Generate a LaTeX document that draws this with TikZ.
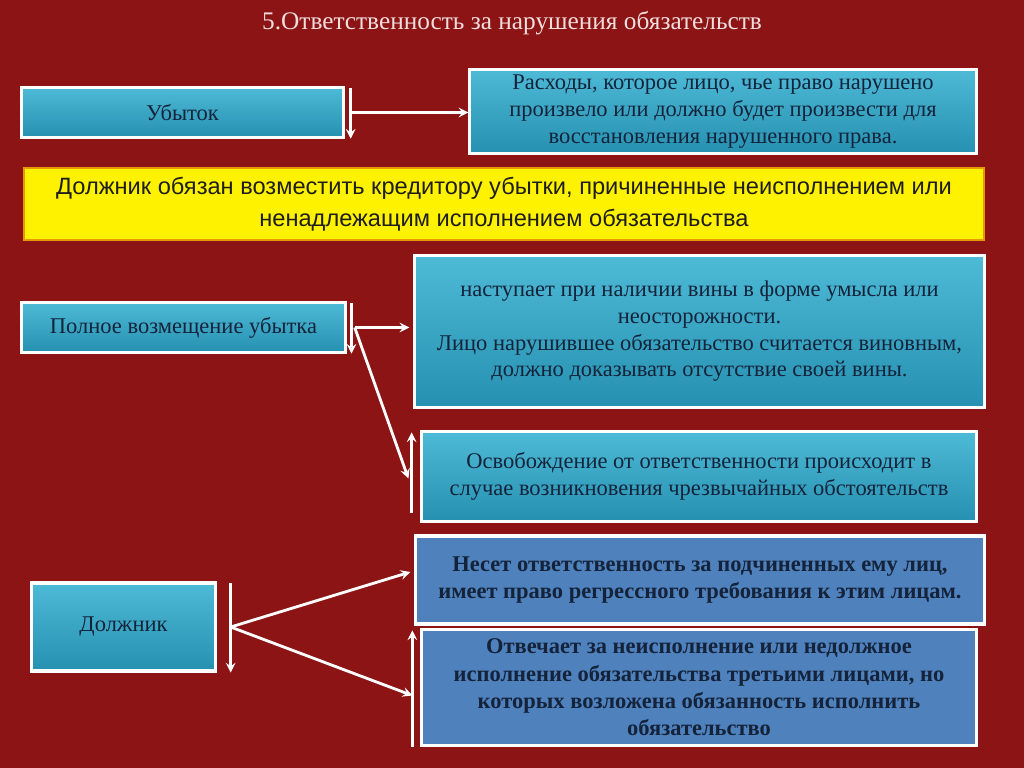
\documentclass[tikz,border=0pt]{standalone}
\usepackage{fontspec}
\setmainfont{Liberation Serif}
\setsansfont{Liberation Sans}
\usetikzlibrary{positioning}
\definecolor{bgred}{HTML}{8C1414}
\definecolor{cyantop}{HTML}{4DBAD6}
\definecolor{cyanbot}{HTML}{2690B0}
\definecolor{steel}{HTML}{4F81BD}
\definecolor{inkblue}{HTML}{14233A}
\definecolor{hiyellow}{HTML}{FFF200}
\definecolor{rimorange}{HTML}{E89A00}

\begin{document}
\begin{tikzpicture}[
    x=0.025cm, y=-0.025cm,
    box/.style={draw=white, line width=2.2pt, inner sep=2pt, align=center,
      text=inkblue, font=\fontsize{16}{19}\selectfont},
    cyanbox/.style={box, top color=cyantop, bottom color=cyanbot},
    bluebox/.style={box, fill=steel, font=\bfseries\fontsize{16}{19.5}\selectfont},
    arr/.style={draw=white, line width=2pt, -stealth},
  ]
  \useasboundingbox (0,0) rectangle (1024,768);
  \fill[bgred] (0,0) rectangle (1024,768);
  \node[text={rgb,255:red,240;green,222;blue,222}, font=\fontsize{18}{20}\selectfont] (title) at (512,23)
    {5.Ответственность за нарушения обязательств};
  % upper row
  \node[cyanbox, minimum width=8.03cm, minimum height=1.23cm] (ubytok) at (182.5,112.5) {Убыток};
  \node[cyanbox, minimum width=12.65cm, minimum height=2.08cm] (rashody) at (723,111.5)
    {Расходы, которое лицо, чье право нарушено\\произвело или должно будет произвести для\\восстановления нарушенного права.};
  \node[draw=rimorange, line width=1.5pt, fill=hiyellow, align=center, text={rgb,255:red,30;green,30;blue,30},
    font=\sffamily\fontsize{16.8}{23}\selectfont, minimum width=24cm, minimum height=1.8cm] (dolg) at (504,204)
    {Должник обязан возместить кредитору убытки, причиненные неисполнением или\\ненадлежащим исполнением обязательства};
  % middle row
  \node[cyanbox, minimum width=8.08cm, minimum height=1.23cm] (polnoe) at (183.5,327.5) {Полное возмещение убытка};
  \node[cyanbox, minimum width=14.23cm, minimum height=3.78cm] (vina) at (699.5,331.5)
    {наступает при наличии вины в форме умысла или\\неосторожности.\\Лицо нарушившее обязательство считается виновным,\\должно доказывать отсутствие своей вины.};
  \node[cyanbox, minimum width=13.85cm, minimum height=2.23cm] (osvob) at (699,476.5)
    {Освобождение от ответственности происходит в\\случае возникновения чрезвычайных обстоятельств};
  % lower row
  \node[cyanbox, minimum width=4.58cm, minimum height=2.2cm] (dolzhnik) at (123.5,627) {Должник};
  \node[bluebox, minimum width=14.2cm, minimum height=2.2cm] (neset) at (700,580)
    {Несет ответственность за подчиненных ему лиц,\\имеет право регрессного требования к этим лицам.};
  \node[bluebox, minimum width=13.85cm, minimum height=2.88cm] (otvech) at (699,687.5)
    {Отвечает за неисполнение или недолжное\\исполнение обязательства третьими лицами, но\\которых возложена обязанность исполнить\\обязательство};
  % connectors
  \coordinate (ub) at ([xshift=0.15cm, yshift=-0.05cm]ubytok.north east);
  \draw[arr] (ub) -- (ub |- ubytok.south);
  \draw[arr] (ub |- ubytok) -- (rashody.west |- ubytok);
  \coordinate (pb) at ([xshift=0.12cm, yshift=-0.05cm]polnoe.north east);
  \coordinate (pm) at ([xshift=0.2cm]polnoe.east);
  \coordinate (ob) at ([xshift=-0.22cm, yshift=-0.05cm]osvob.north west);
  \coordinate (os) at ([xshift=-0.3cm, yshift=-0.05cm]osvob.west);
  \draw[arr] (pb) -- (pb |- polnoe.south);
  \draw[arr] (pm) -- ([xshift=-0.1cm]vina.west |- pm);
  \draw[arr] (pm) -- (os);
  \draw[arr] ([yshift=-0.9cm]ob |- osvob.west) -- (ob);
  \coordinate (db) at ([xshift=0.35cm, yshift=-0.05cm]dolzhnik.north east);
  \coordinate (dm) at (db |- dolzhnik);
  \coordinate (nt) at ([xshift=-0.1cm, yshift=0.2cm]neset.west);
  \coordinate (ot) at ([xshift=-0.2cm, yshift=-0.2cm]otvech.west);
  \coordinate (ob2) at ([xshift=-0.2cm, yshift=-0.05cm]otvech.north west);
  \draw[arr] (db) -- (db |- dolzhnik.south);
  \draw[arr] (dm) -- (nt);
  \draw[arr] (dm) -- (ot);
  \draw[arr] (ob2 |- otvech.south) -- (ob2);
\end{tikzpicture}
\end{document}
